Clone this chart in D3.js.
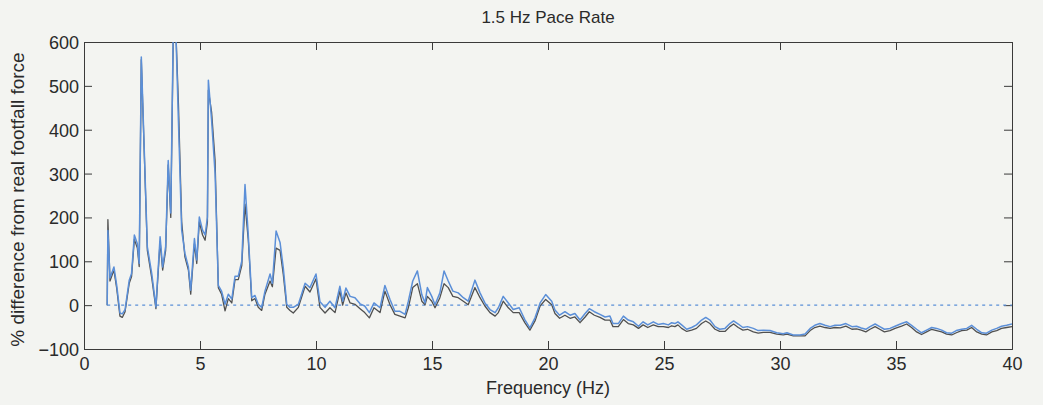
<!DOCTYPE html>
<html>
<head>
<meta charset="utf-8">
<script src="https://cdn.jsdelivr.net/npm/d3@7"></script>
<style>
  html, body { margin: 0; padding: 0; background: #f3f4f1; }
  svg { display: block; }
  text { font-family: "Liberation Sans", Arial, Helvetica, sans-serif; fill: #2a2a2a; }
</style>
</head>
<body>
<svg id="chart" width="1043" height="405"></svg>
<script>
// ---- Data ----
const title = "1.5 Hz Pace Rate";
const xLabel = "Frequency (Hz)";
const yLabel = "% difference from real footfall force";
const xTicks = [0, 5, 10, 15, 20, 25, 30, 35, 40];
const yTicks = [-100, 0, 100, 200, 300, 400, 500, 600];

const freq = [
  1.00, 1.03, 1.12, 1.29, 1.41, 1.55, 1.65, 1.77, 1.95, 2.05, 2.17, 2.30, 2.38, 2.47, 2.73, 2.92,
  3.10, 3.28, 3.39, 3.52, 3.63, 3.74, 3.85, 3.95, 4.07, 4.21, 4.35, 4.50, 4.60, 4.76, 4.86, 4.97,
  5.11, 5.22, 5.32, 5.36, 5.50, 5.65, 5.79, 5.93, 6.08, 6.22, 6.37, 6.51, 6.65, 6.80, 6.94, 7.08,
  7.23, 7.37, 7.51, 7.66, 7.80, 8.02, 8.12, 8.28, 8.45, 8.59, 8.74, 8.88, 9.02, 9.24, 9.53, 9.74,
  10.00, 10.17, 10.39, 10.60, 10.82, 11.03, 11.15, 11.29, 11.47, 11.68, 11.90, 12.10, 12.30, 12.50,
  12.76, 12.97, 13.19, 13.40, 13.62, 13.84, 13.98, 14.17, 14.37, 14.56, 14.70, 14.80, 14.99, 15.13,
  15.34, 15.52, 15.70, 15.90, 16.13, 16.35, 16.56, 16.85, 17.07, 17.28, 17.50, 17.72, 17.86, 18.07,
  18.29, 18.50, 18.76, 19.00, 19.22, 19.44, 19.66, 19.90, 20.16, 20.30, 20.50, 20.73, 20.95, 21.16,
  21.38, 21.60, 21.78, 22.00, 22.24, 22.46, 22.67, 22.80, 23.03, 23.25, 23.46, 23.68, 23.90, 24.10,
  24.30, 24.54, 24.75, 24.97, 25.19, 25.33, 25.47, 25.60, 25.76, 25.98, 26.19, 26.40, 26.62, 26.80,
  26.98, 27.20, 27.40, 27.63, 27.84, 28.00, 28.20, 28.40, 28.60, 28.85, 29.06, 29.28, 29.57, 29.86,
  30.14, 30.30, 30.57, 30.86, 31.08, 31.30, 31.50, 31.72, 31.94, 32.16, 32.37, 32.60, 32.84, 33.10,
  33.30, 33.50, 33.70, 33.88, 34.10, 34.30, 34.50, 34.74, 34.96, 35.24, 35.46, 35.67, 35.89, 36.10,
  36.32, 36.54, 36.75, 36.97, 37.18, 37.40, 37.60, 37.83, 38.05, 38.26, 38.48, 38.70, 38.90, 39.13,
  39.34, 39.55, 39.77, 40.00
];

const blueSeries = [
  0, 170, 62, 87, 45, -18, -20, -10, 57, 72, 160, 140, 95, 566, 133, 72,
  -4, 156, 87, 134, 330, 210, 640, 640, 420, 171, 118, 87, 34, 152, 103, 201,
  171, 160, 201, 513, 422, 300, 45, 32, 2, 25, 14, 66, 66, 100, 275, 161,
  17, 22, 2, -5, 32, 71, 50, 169, 143, 85, 2, -5, -5, 2, 50, 40,
  71, 8, -5, 9, -6, 43, 9, 39, 20, 17, 3, -2, -17, 5,
  -6, 45, 13, -14, -14, -21, 9, 55, 78, 24, 5, 40, 20, 1,
  28, 78, 55, 32, 28, 17, 9, 57, 28, 5, -10, -17, -6, 20,
  5, -10, -6, -33, -52, -29, 5, 24, 9, -11, -23, -15, -23, -19,
  -34, -19, -8, -15, -21, -27, -25, -42, -42, -25, -34, -38, -48, -38,
  -45, -38, -44, -42, -45, -40, -42, -38, -45, -55, -51, -45, -34, -28,
  -34, -49, -55, -53, -42, -36, -43, -51, -49, -53, -58, -57, -58, -63,
  -65, -63, -68, -68, -66, -53, -46, -42, -46, -49, -46, -46, -42, -49,
  -48, -52, -55, -49, -43, -49, -55, -53, -48, -42, -38, -46, -55, -63,
  -57, -51, -53, -57, -63, -64, -58, -55, -53, -46, -55, -63, -64, -57,
  -53, -48, -46, -43
];

const blackSeries = [
  0, 195, 55, 80, 38, -25, -28, -15, 50, 65, 150, 130, 88, 560, 125, 62,
  -8, 145, 80, 125, 320, 200, 620, 640, 460, 190, 110, 80, 25, 140, 95, 190,
  160, 148, 190, 490, 440, 330, 40, 25, -13, 15, 5, 58, 58, 90, 230, 150,
  10, 15, -5, -12, 25, 55, 42, 130, 125, 70, -5, -12, -18, -5, 43, 30,
  60, -5, -18, -6, -17, 32, 0, 28, 5, 2, -8, -17, -29, -6,
  -17, 32, 1, -21, -25, -29, -6, 40, 49, 9, 1, 20, 9, -6,
  17, 49, 40, 20, 17, 9, 1, 40, 17, -2, -17, -25, -17, 9,
  -6, -17, -17, -40, -57, -36, -2, 13, 1, -19, -30, -23, -30, -27,
  -40, -27, -15, -23, -28, -34, -34, -49, -49, -33, -42, -45, -53, -45,
  -51, -45, -49, -49, -51, -47, -49, -45, -53, -60, -57, -53, -42, -36,
  -42, -55, -60, -60, -49, -43, -51, -57, -55, -61, -64, -62, -62, -66,
  -68, -66, -70, -70, -70, -58, -51, -48, -51, -53, -51, -52, -48, -55,
  -54, -57, -61, -55, -49, -55, -61, -58, -53, -48, -43, -51, -61, -67,
  -61, -55, -58, -61, -66, -68, -63, -58, -57, -51, -61, -66, -68, -61,
  -58, -53, -51, -49
];

const refFreq = [1, 40];
const refValues = [0, 0];

// ---- Layout ----
const svg = d3.select("#chart");
const W = 1043, H = 405;
const plot = { left: 84, right: 1012, top: 42, bottom: 349 };

svg.append("rect").attr("width", W).attr("height", H).attr("fill", "#f3f4f1");

const x = d3.scaleLinear().domain([0, 40]).range([plot.left, plot.right]);
const y = d3.scaleLinear().domain([-100, 600]).range([plot.bottom, plot.top]);

const axisColor = "#3a3a3a";
const tickLen = 8;
const fontSize = 18;

// clip
svg.append("defs").append("clipPath").attr("id", "clip")
  .append("rect")
  .attr("x", plot.left).attr("y", plot.top)
  .attr("width", plot.right - plot.left).attr("height", plot.bottom - plot.top);

// Axes (MATLAB style: inward ticks on all four sides)
const gBottom = svg.append("g").attr("transform", `translate(0,${plot.bottom})`)
  .call(d3.axisBottom(x).tickValues(xTicks).tickSize(-tickLen).tickPadding(8).tickFormat(d3.format("d")));
const gTop = svg.append("g").attr("transform", `translate(0,${plot.top})`)
  .call(d3.axisTop(x).tickValues(xTicks).tickSize(-tickLen).tickFormat(""));
const gLeft = svg.append("g").attr("transform", `translate(${plot.left},0)`)
  .call(d3.axisLeft(y).tickValues(yTicks).tickSize(-tickLen).tickPadding(5).tickFormat(d3.format("d")));
const gRight = svg.append("g").attr("transform", `translate(${plot.right},0)`)
  .call(d3.axisRight(y).tickValues(yTicks).tickSize(-tickLen).tickFormat(""));

[gBottom, gTop, gLeft, gRight].forEach(g => {
  g.select(".domain").attr("stroke", axisColor).attr("stroke-width", 1);
  g.selectAll(".tick line").attr("stroke", axisColor).attr("stroke-width", 1);
  g.selectAll(".tick text")
    .attr("font-family", "'Liberation Sans', Arial, sans-serif")
    .attr("font-size", fontSize)
    .attr("fill", "#2a2a2a");
});
gLeft.selectAll(".tick text").attr("dy", "0.36em");

// Lines
const lineGen = d3.line().x(d => x(d[0])).y(d => y(d[1]));
const blackData = freq.map((f, i) => [f, blackSeries[i]]);
const blueData = freq.map((f, i) => [f, blueSeries[i]]);
const refData = refFreq.map((f, i) => [f, refValues[i]]);

const gLines = svg.append("g").attr("clip-path", "url(#clip)");
gLines.append("path").datum(refData)
  .attr("d", lineGen).attr("fill", "none")
  .attr("stroke", "#5b8fd8").attr("stroke-width", 1.2).attr("stroke-dasharray", "3,4");
gLines.append("path").datum(blackData)
  .attr("d", lineGen).attr("fill", "none")
  .attr("stroke", "#505050").attr("stroke-width", 1.3).attr("stroke-linejoin", "round");
gLines.append("path").datum(blueData)
  .attr("d", lineGen).attr("fill", "none")
  .attr("stroke", "#5b8fd8").attr("stroke-width", 1.5).attr("stroke-linejoin", "round");

// Texts
svg.append("text").attr("x", (plot.left + plot.right) / 2).attr("y", 23)
  .attr("text-anchor", "middle").attr("font-size", 17).text(title);
svg.append("text").attr("x", (plot.left + plot.right) / 2).attr("y", 394)
  .attr("text-anchor", "middle").attr("font-size", fontSize).text(xLabel);
svg.append("text")
  .attr("transform", `translate(24,${(plot.top + plot.bottom) / 2 + 4}) rotate(-90)`)
  .attr("text-anchor", "middle").attr("font-size", 19).text(yLabel);
</script>
</body>
</html>
